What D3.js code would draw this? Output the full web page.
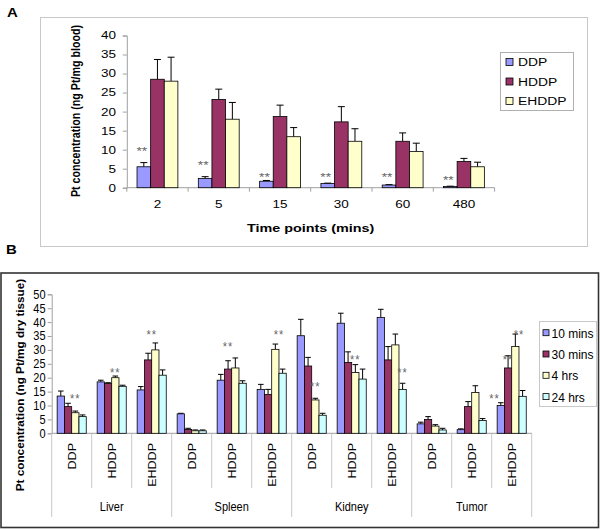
<!DOCTYPE html>
<html><head><meta charset="utf-8">
<script src="https://cdn.jsdelivr.net/npm/d3@7"></script>
<style>body{margin:0;background:#fff} svg{display:block}</style>
</head><body><svg id="c" width="600" height="530"></svg>
<script>
// ---------- Panel A data ----------
const timePoints = ["2", "5", "15", "30", "60", "480"];
const bloodSeries = ["DDP", "HDDP", "EHDDP"];
const bloodDDP = [5.5, 2.4, 1.7, 1.1, 0.7, 0.3];
const bloodDDPsd = [1.1, 0.5, 0.2, 0.1, 0.1, 0.1];
const bloodHDDP = [28.5, 23.2, 18.7, 17.3, 12.2, 6.9];
const bloodHDDPsd = [5.2, 2.7, 3.0, 4.0, 2.2, 0.8];
const bloodEHDDP = [28.0, 18.0, 13.4, 12.2, 9.5, 5.5];
const bloodEHDDPsd = [6.3, 4.4, 2.4, 3.3, 2.2, 1.2];
const bloodTicks = [0, 5, 10, 15, 20, 25, 30, 35, 40];
const bloodStars = [10.4, 6.8, 3.5, 3.6, 3.6, 2.8]; // label heights (data units) above DDP bars

// ---------- Panel B data ----------
const organs = ["Liver", "Spleen", "Kidney", "Tumor"];
const formulations = ["DDP", "HDDP", "EHDDP"];
const timeSeries = ["10 mins", "30 mins", "4 hrs", "24 hrs"];
const t10 = [13.4, 18.5, 15.6, 7.0, 19.1, 15.8, 35.1, 39.6, 41.7, 3.4, 1.3, 10.0];
const t10sd = [1.8, 0.6, 1.2, 0.2, 2.1, 1.8, 5.9, 3.6, 2.9, 0.6, 0.3, 1.0];
const t30 = [9.6, 17.9, 26.4, 1.4, 23.1, 14.0, 24.2, 25.5, 26.4, 5.0, 9.6, 23.5];
const t30sd = [1.2, 0.3, 2.4, 0.4, 3.0, 1.8, 3.1, 3.8, 4.8, 1.0, 1.8, 4.4];
const t4h = [7.4, 20.0, 30.0, 0.9, 23.5, 30.2, 12.0, 21.9, 31.8, 2.6, 14.7, 31.2];
const t4hsd = [0.6, 0.6, 2.5, 0.3, 3.6, 1.9, 0.6, 2.8, 3.9, 0.5, 2.4, 4.5];
const t24h = [6.0, 16.9, 20.9, 0.9, 18.0, 21.6, 6.5, 19.5, 15.8, 1.2, 4.6, 13.3];
const t24hsd = [0.6, 0.4, 1.9, 0.3, 0.9, 1.5, 0.7, 3.6, 2.2, 0.6, 0.7, 2.1];
const tissueTicks = [0, 5, 10, 15, 20, 25, 30, 35, 40, 45, 50];
// significance marks: group index, series slot (fractional), height in data units
const tissueStarGroup = [0, 1, 2, 4, 5, 6, 7, 8, 11, 11, 11];
const tissueStarSlot = [2, 2, 1.5, 1, 2.5, 2, 2, 3, -0.85, 1, 2.5];
const tissueStarY = [13.4, 22.8, 36.4, 32.0, 36.4, 17.7, 27.4, 22.8, 13.4, 27.6, 36.4];

const colors = ["#9999FF", "#993366", "#FFFFCC", "#CCFFFF"];

const svg = d3.select("#c");
const ARIAL = "'Liberation Sans', Arial, sans-serif";

function txt(g, x, y, str, o) {
  o = o || {};
  const t = g.append("text")
    .attr("transform", `translate(${x},${y}) scale(${o.sx || 1},${o.sy || 1})` + (o.rot ? ` rotate(${o.rot})` : ""))
    .attr("font-family", ARIAL)
    .attr("font-size", o.size || 11)
    .attr("font-weight", o.bold ? "bold" : "normal")
    .attr("text-anchor", o.anchor || "start")
    .attr("fill", o.fill || "#000")
    .text(str);
  if (o.ls) t.attr("letter-spacing", o.ls);
  return t;
}

// ================= PANEL A =================
const gA = svg.append("g");
txt(gA, 7, 17, "A", { size: 13, bold: true, sx: 1.15 });
gA.append("rect").attr("x", 40.5).attr("y", 17.5).attr("width", 547).attr("height", 229)
  .attr("fill", "none").attr("stroke", "#c8c8c8").attr("stroke-width", 1);

const xA = d3.scaleBand().domain(timePoints).range([126.8, 494.6]);
const xAin = d3.scaleBand().domain(bloodSeries).range([0, xA.bandwidth()]).paddingOuter(0.75);
const yA = d3.scaleLinear().domain([0, 40]).range([187.7, 35.5]);
const SA = 1.26;

// y axis
const axA = gA.append("g").attr("transform", "translate(126.8,0)")
  .call(d3.axisLeft(yA).tickValues(bloodTicks).tickSize(4).tickFormat(""));
axA.selectAll("path,line").attr("stroke", "#a0a0a0");
bloodTicks.forEach(v => txt(gA, 116, yA(v) + 3.9, String(v), { size: 10.7, sx: SA, anchor: "end" }));
// x axis
gA.append("line").attr("x1", xA.range()[0]).attr("x2", xA.range()[1])
  .attr("y1", yA(0)).attr("y2", yA(0)).attr("stroke", "#a0a0a0");
timePoints.concat(["end"]).forEach((d, i) => {
  const x = i < timePoints.length ? xA(d) : xA.range()[1];
  gA.append("line").attr("x1", x).attr("x2", x).attr("y1", yA(0)).attr("y2", yA(0) + 4).attr("stroke", "#a0a0a0");
});
timePoints.forEach(d => txt(gA, xA(d) + xA.bandwidth() / 2, 208, d, { size: 10.7, sx: SA, anchor: "middle" }));
txt(gA, 310.7, 231.5, "Time points (mins)", { size: 11.4, bold: true, sx: SA, anchor: "middle" });
txt(gA, 79.5, 111, "Pt concentration (ng Pt/mg blood)", { size: 10.7, bold: true, sx: SA, rot: -90, anchor: "middle" });

const bloodVals = [bloodDDP, bloodHDDP, bloodEHDDP];
const bloodSds = [bloodDDPsd, bloodHDDPsd, bloodEHDDPsd];
bloodSeries.forEach((s, si) => {
  timePoints.forEach((tp, i) => {
    const v = bloodVals[si][i], sd = bloodSds[si][i];
    const x = xA(tp) + xAin(s), w = xAin.bandwidth(), cx = x + w / 2;
    gA.append("line").attr("x1", cx).attr("x2", cx).attr("y1", yA(v)).attr("y2", yA(v + sd)).attr("stroke", "#000");
    gA.append("line").attr("x1", cx - 3.5).attr("x2", cx + 3.5).attr("y1", yA(v + sd)).attr("y2", yA(v + sd)).attr("stroke", "#000");
    gA.append("rect").attr("x", x).attr("y", yA(v)).attr("width", w).attr("height", yA(0) - yA(v))
      .attr("fill", colors[si]).attr("stroke", "#000").attr("stroke-width", 0.8);
  });
});
timePoints.forEach((tp, i) => {
  const cx = xA(tp) + xAin("DDP") + xAin.bandwidth() / 2 - 2;
  txt(gA, cx, yA(bloodStars[i]) + 7, "**", { size: 11, sx: SA, anchor: "middle", fill: "#666" });
});
// legend A
gA.append("rect").attr("x", 500.5).attr("y", 52.5).attr("width", 73).attr("height", 58)
  .attr("fill", "#fff").attr("stroke", "#b0b0b0");
bloodSeries.forEach((s, i) => {
  const cy = 62 + i * 19.5;
  gA.append("rect").attr("x", 506).attr("y", cy - 3.5).attr("width", 7).attr("height", 7)
    .attr("fill", colors[i]).attr("stroke", "#000").attr("stroke-width", 0.8);
  txt(gA, 518, cy + 4, s, { size: 11, sx: SA });
});

// ================= PANEL B =================
const gB = svg.append("g");
txt(gB, 6, 254, "B", { size: 13, bold: true, sx: 1.15 });
gB.append("rect").attr("x", 1).attr("y", 273).attr("width", 597.5).attr("height", 254.5)
  .attr("fill", "none").attr("stroke", "#333").attr("stroke-width", 1.6);

const groupKeys = [];
organs.forEach(o => formulations.forEach(f => groupKeys.push(o + "|" + f)));
const xB = d3.scaleBand().domain(groupKeys).range([51.7, 531.7]);
const xBin = d3.scaleBand().domain(timeSeries).range([0, xB.bandwidth()]).paddingOuter(0.75);
const yB = d3.scaleLinear().domain([0, 50]).range([433.3, 294.3]);
const SB = 1.14;

const axB = gB.append("g").attr("transform", "translate(51.7,0)")
  .call(d3.axisLeft(yB).tickValues(tissueTicks).tickSize(4).tickFormat(""));
axB.selectAll("path,line").attr("stroke", "#a0a0a0");
tissueTicks.forEach(v => txt(gB, 45.5, yB(v) + 4.4, String(v), { size: 11, sy: SB, anchor: "end" }));
txt(gB, 24, 385, "Pt concentration (ng Pt/mg dry tissue)", { size: 10.3, bold: true, sy: SB, rot: -90, anchor: "middle" });

// category separators and labels
groupKeys.concat(["end"]).forEach((k, i) => {
  const x = i < groupKeys.length ? xB(k) : xB.range()[1];
  const organEdge = i % 3 === 0;
  gB.append("line").attr("x1", x).attr("x2", x).attr("y1", yB(0)).attr("y2", organEdge ? 517 : 488)
    .attr("stroke", "#c8c8c8");
});
gB.append("line").attr("x1", xB.range()[0]).attr("x2", xB.range()[1]).attr("y1", yB(0)).attr("y2", yB(0)).attr("stroke", "#a0a0a0");
groupKeys.forEach(k => {
  const f = k.split("|")[1];
  txt(gB, xB(k) + xB.bandwidth() / 2 + 4, 443, f, { size: 11, sy: SB, rot: -90, anchor: "end" });
});
organs.forEach((o, i) => {
  const cx = xB(o + "|HDDP") + xB.bandwidth() / 2;
  txt(gB, cx, 511, o, { size: 11, sy: SB, anchor: "middle" });
});

const tissueVals = [t10, t30, t4h, t24h];
const tissueSds = [t10sd, t30sd, t4hsd, t24hsd];
timeSeries.forEach((s, si) => {
  groupKeys.forEach((k, i) => {
    const v = tissueVals[si][i], sd = tissueSds[si][i];
    const x = xB(k) + xBin(s), w = xBin.bandwidth(), cx = x + w / 2;
    gB.append("line").attr("x1", cx).attr("x2", cx).attr("y1", yB(v)).attr("y2", yB(v + sd)).attr("stroke", "#000");
    gB.append("line").attr("x1", cx - 2.8).attr("x2", cx + 2.8).attr("y1", yB(v + sd)).attr("y2", yB(v + sd)).attr("stroke", "#000");
    gB.append("rect").attr("x", x).attr("y", yB(v)).attr("width", w).attr("height", yB(0) - yB(v))
      .attr("fill", colors[si]).attr("stroke", "#000").attr("stroke-width", 0.8);
  });
});
tissueStarGroup.forEach((gi, j) => {
  const k = groupKeys[gi];
  const cx = xB(k) + xBin(timeSeries[0]) + (tissueStarSlot[j] + 0.5) * xBin.bandwidth();
  txt(gB, cx, yB(tissueStarY[j]) + 7, "**", { size: 11, sy: SB, anchor: "middle", fill: "#666", ls: 1 });
});
// legend B
gB.append("rect").attr("x", 539.5).attr("y", 321.5).attr("width", 57).attr("height", 85)
  .attr("fill", "#fff").attr("stroke", "#c8c8c8");
timeSeries.forEach((s, i) => {
  const cy = 332.7 + i * 21.3;
  gB.append("rect").attr("x", 543).attr("y", cy - 3).attr("width", 6).attr("height", 6)
    .attr("fill", colors[i]).attr("stroke", "#000").attr("stroke-width", 0.8);
  txt(gB, 551.5, cy + 5, s, { size: 12, sy: SB });
});
</script></body></html>
